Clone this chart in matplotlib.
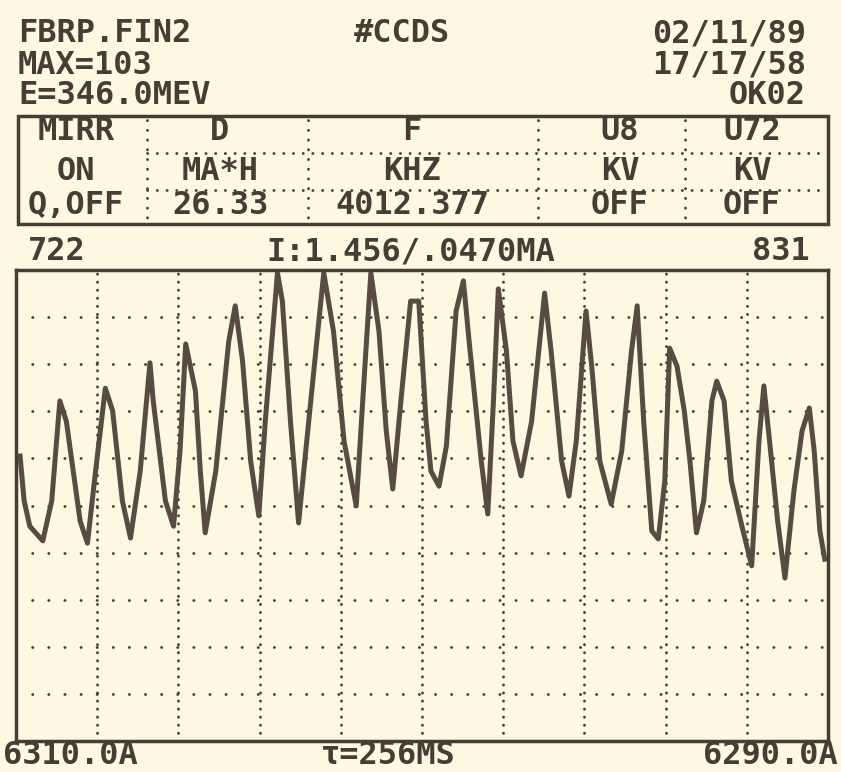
import matplotlib.pyplot as plt
from matplotlib.patches import Rectangle

# Waveform trace, in screen divisions (10 x 10 grid)
wave_x = [0.05, 0.10, 0.17, 0.33, 0.44, 0.54, 0.62, 0.79, 0.88, 0.98,
          1.10, 1.19, 1.31, 1.41, 1.53, 1.65, 1.69, 1.84, 1.94, 2.02,
          2.09, 2.21, 2.27, 2.33, 2.46, 2.62, 2.70, 2.79, 2.89, 2.99,
          3.07, 3.22, 3.28, 3.38, 3.48, 3.63, 3.79, 3.91, 4.04, 4.19,
          4.27, 4.37, 4.47, 4.56, 4.64, 4.74, 4.86, 4.96, 5.05, 5.11,
          5.21, 5.30, 5.42, 5.51, 5.58, 5.73, 5.81, 5.88, 5.94, 6.04,
          6.12, 6.22, 6.35, 6.51, 6.59, 6.72, 6.81, 6.90, 7.02, 7.09,
          7.19, 7.33, 7.46, 7.58, 7.65, 7.73, 7.83, 7.91, 7.99, 8.05,
          8.14, 8.23, 8.30, 8.38, 8.47, 8.57, 8.63, 8.72, 8.81, 8.94,
          9.06, 9.15, 9.21, 9.28, 9.38, 9.47, 9.58, 9.68, 9.77, 9.83,
          9.90, 9.96]
wave_y = [6.05, 5.10, 4.56, 4.25, 5.10, 7.22, 6.79, 4.67, 4.20, 5.73,
          7.49, 7.01, 5.10, 4.31, 5.73, 8.03, 7.22, 5.10, 4.56, 6.16,
          8.43, 7.43, 5.73, 4.42, 5.73, 8.49, 9.24, 8.07, 5.94, 4.78,
          6.79, 9.94, 9.34, 6.79, 4.63, 7.22, 9.94, 8.70, 6.37, 4.99,
          7.22, 9.94, 8.70, 6.58, 5.35, 7.22, 9.34, 9.34, 6.79, 5.73,
          5.41, 6.26, 9.13, 9.77, 8.49, 5.94, 4.82, 7.22, 9.60, 8.28,
          6.37, 5.63, 6.79, 9.51, 8.28, 5.94, 5.20, 6.37, 9.13, 7.96,
          5.94, 5.03, 6.16, 8.28, 9.24, 6.79, 4.46, 4.29, 5.52, 8.34,
          7.96, 7.01, 5.94, 4.42, 5.10, 7.22, 7.64, 7.22, 5.52, 4.56,
          3.72, 6.37, 7.54, 6.37, 4.67, 3.46, 5.31, 6.58, 7.07, 6.16,
          4.46, 3.86]

header_left = ["FBRP.FIN2", "MAX=103", "E=346.0MEV"]
header_right = ["02/11/89", "17/17/58", "OK02"]
header_mid = "#CCDS"

table_rows = [["MIRR", "D", "F", "U8", "U72"],
              ["ON", "MA*H", "KHZ", "KV", "KV"],
              ["Q,OFF", "26.33", "4012.377", "OFF", "OFF"]]

status_left = "722"
status_mid = "I:1.456/.0470MA"
status_right = "831"

foot_left = "6310.0A"
foot_mid = "τ=256MS"
foot_right = "6290.0A"

paper = "#fcf8e1"
ink = "#463d35"
trace = "#574b42"
font = dict(family="DejaVu Sans Mono", fontweight="bold", fontsize=23, color=ink)

fig = plt.figure(figsize=(8.41, 7.72), dpi=100, facecolor=paper)

# page layer in pixel coordinates
bg = fig.add_axes([0, 0, 1, 1])
bg.set_xlim(0, 841)
bg.set_ylim(772, 0)
bg.axis("off")

for i, y in enumerate([34, 65, 96]):
    bg.text(18, y, header_left[i], ha="left", va="center", **font)
    bg.text(806, y, header_right[i], ha="right", va="center", **font)
bg.text(402, 34, header_mid, ha="center", va="center", **font)

# parameter table
bg.add_patch(Rectangle((18, 116), 810, 108, fill=False, lw=2.5, ec=ink))
col_centers = [76, 220, 412, 620, 752]
row_centers = [132, 171, 206]
for r, row in enumerate(table_rows):
    for c, cell in enumerate(row):
        bg.text(col_centers[c], row_centers[r], cell, ha="center", va="center", **font)
for y in [153, 190]:
    bg.plot([147, 826], [y, y], color=ink, lw=2, linestyle=(0, (0.1, 3.4)),
            dash_capstyle="round")
for x in [147, 308, 538, 685]:
    bg.plot([x, x], [120, 222], color=ink, lw=2, linestyle=(0, (0.1, 3.4)),
            dash_capstyle="round")

bg.text(28, 252, status_left, ha="left", va="center", **font)
bg.text(411, 252, status_mid, ha="center", va="center", **font)
bg.text(810, 252, status_right, ha="right", va="center", **font)

bg.text(3, 756, foot_left, ha="left", va="center", **font)
bg.text(388, 756, foot_mid, ha="center", va="center", **font)
bg.text(838, 756, foot_right, ha="right", va="center", **font)

# scope screen
ax = fig.add_axes([16 / 841, 31 / 772, 812 / 841, 471 / 772])
ax.set_facecolor("none")
ax.set_xlim(0, 10)
ax.set_ylim(0, 10)
for k in range(1, 10):
    ax.axhline(k, color=ink, lw=2, linestyle=(0, (0.1, 5.7)), dash_capstyle="round")
    ax.axvline(k, color=ink, lw=2, linestyle=(0, (0.1, 2.8)), dash_capstyle="round")
ax.plot(wave_x, wave_y, color=trace, lw=3.6, solid_joinstyle="round")
ax.set_xticks([])
ax.set_yticks([])
for s in ax.spines.values():
    s.set_color(ink)
    s.set_linewidth(2.5)

fig.savefig("out.png", dpi=100, facecolor=paper)
